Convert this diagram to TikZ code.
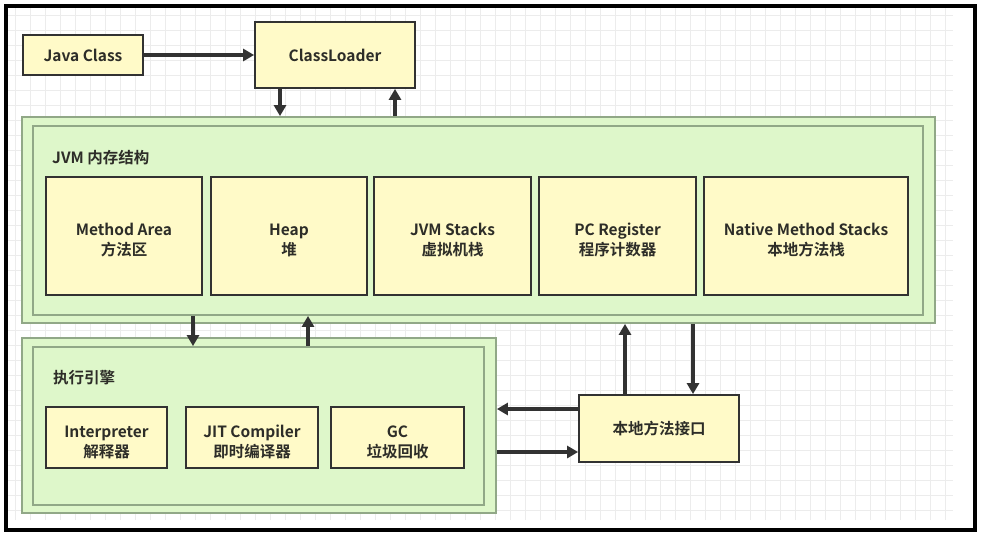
\documentclass[tikz,border=0pt]{standalone}
\usepackage{fontspec}
\setmainfont{Noto Sans CJK SC}[BoldFont={Noto Sans CJK SC Bold}]
\usetikzlibrary{arrows.meta}
\definecolor{ylw}{RGB}{255,250,200}
\definecolor{grn}{RGB}{222,247,202}
\definecolor{grnb}{RGB}{145,168,135}
\definecolor{dk}{RGB}{50,50,50}
\definecolor{txt}{RGB}{45,45,40}
\definecolor{gridc}{RGB}{236,236,236}
\begin{document}
\begin{tikzpicture}[x=1pt,y=-1pt,
  ybox/.style={draw=dk,line width=1.8pt,fill=ylw,font=\bfseries\fontsize{15.5}{20}\selectfont,text=txt,align=center,inner sep=0pt},
  btext/.style={font=\bfseries\fontsize{15.5}{20}\selectfont,text=txt,align=center,inner sep=0pt},
  gbox/.style={draw=grnb,line width=1.8pt,fill=grn},
  lbl/.style={font=\bfseries\fontsize{15.5}{20}\selectfont,text=txt,anchor=west,inner sep=0pt},
  arr/.style={draw=dk,line width=3.6pt,-{Triangle[length=11pt,width=12pt]}}]
\useasboundingbox (0,0) rectangle (984,535);
\fill[white] (0,0) rectangle (984,535);
% grid
\draw[gridc,line width=0.7pt] (8,8) grid[step=15pt] (953,520);
% frame
\draw[black,line width=3.6pt] (6,6) rectangle (975,530);
% top nodes
\node[ybox,minimum width=120pt,minimum height=40pt] (jc) at (83,55) {Java Class};
\node[ybox,minimum width=160pt,minimum height=66pt] (cl) at (335,55) {ClassLoader};
% JVM memory
\node[gbox,minimum width=913pt,minimum height=206pt] (jvmo) at (478.5,220) {};
\node[gbox,minimum width=890pt,minimum height=189pt] (jvmi) at (478,220.5) {};
\node[lbl] (jvml) at (52,158) {JVM 内存结构};
\node[ybox,minimum width=156pt,minimum height=118pt] (ma) at (124,236) {};
\node[ybox,minimum width=156pt,minimum height=118pt] (hp) at (289,236) {};
\node[ybox,minimum width=157pt,minimum height=118pt] (js) at (452.5,236) {};
\node[ybox,minimum width=157pt,minimum height=118pt] (pc) at (617.5,236) {};
\node[ybox,minimum width=204pt,minimum height=118pt] (nm) at (806,236) {};
\node[btext] (mat) at ([yshift=-4pt]ma.center) {Method Area\\方法区};
\node[btext] (hpt) at ([yshift=-4pt]hp.center) {Heap\\堆};
\node[btext] (jst) at ([yshift=-4pt]js.center) {JVM Stacks\\虚拟机栈};
\node[btext] (pct) at ([yshift=-4pt]pc.center) {PC Register\\程序计数器};
\node[btext] (nmt) at ([yshift=-4pt]nm.center) {Native Method Stacks\\本地方法栈};
% execution engine
\node[gbox,minimum width=474pt,minimum height=175pt] (exo) at (259,425.5) {};
\node[gbox,minimum width=451pt,minimum height=158pt] (exi) at (258.5,426) {};
\node[lbl] (exl) at (53,378) {执行引擎};
\node[ybox,minimum width=121pt,minimum height=61pt] (ip) at (106.5,437.5) {};
\node[ybox,minimum width=132pt,minimum height=61pt] (jit) at (252,437.5) {};
\node[ybox,minimum width=133pt,minimum height=61pt] (gc) at (397.5,437.5) {};
\node[btext] (ipt) at ([yshift=-4.5pt]ip.center) {Interpreter\\解释器};
\node[btext] (jitt) at ([yshift=-4.5pt]jit.center) {JIT Compiler\\即时编译器};
\node[btext] (gct) at ([yshift=-4.5pt]gc.center) {GC\\垃圾回收};
% native interface
\node[ybox,minimum width=160pt,minimum height=67pt] (ni) at (659,428.5) {本地方法接口};
% arrows
\draw[arr] (jc.east) -- (cl.west);
\draw[arr] (cl.south -| 280,0) -- (jvmo.north -| 280,0);
\draw[arr] (jvmo.north -| 395,0) -- (cl.south -| 395,0);
\draw[arr] (jvmi.south -| 193,0) -- (exi.north -| 193,0);
\draw[arr] (exi.north -| 308,0) -- (jvmi.south -| 308,0);
\draw[arr] (ni.north -| 625,0) -- (jvmo.south -| 625,0);
\draw[arr] (jvmo.south -| 693,0) -- (ni.north -| 693,0);
\draw[arr] (ni.west |- 0,409) -- (exo.east |- 0,409);
\draw[arr] (exo.east |- 0,452) -- (ni.west |- 0,452);
\end{tikzpicture}
\end{document}
